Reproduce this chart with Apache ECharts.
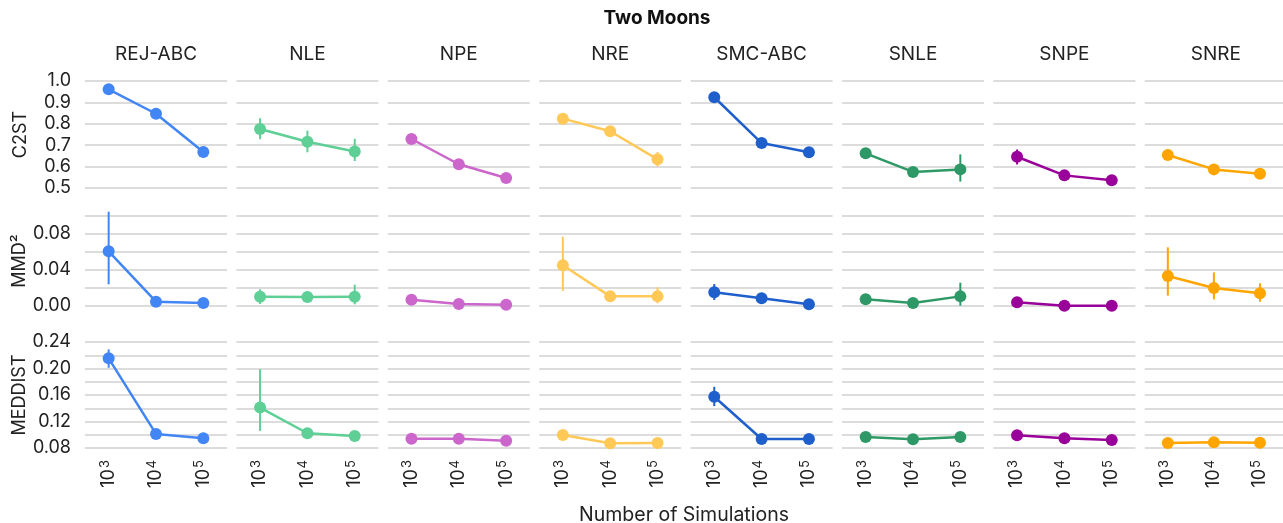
<!DOCTYPE html>
<html>
<head>
<meta charset="utf-8">
<script src="https://cdn.jsdelivr.net/npm/echarts@6/dist/echarts.min.js"></script>
<style>html,body{margin:0;padding:0;background:#fff}#c{width:1283px;height:523px}</style>
</head>
<body>
<div id="c"></div>
<script>
// ---- data ----
const methods = ['REJ-ABC','NLE','NPE','NRE','SMC-ABC','SNLE','SNPE','SNRE'];
const colors = ['#4285f4','#5ecf95','#cc66cc','#ffc857','#1f5fcc','#2e9966','#990099','#ffa500'];
const exponents = ['3','4','5'];
const metrics = ['C2ST','MMD²','MEDDIST'];

// C2ST
const c2st = [
  [0.961,0.847,0.668],[0.776,0.716,0.671],[0.729,0.611,0.547],[0.824,0.765,0.634],
  [0.924,0.710,0.667],[0.662,0.575,0.587],[0.646,0.559,0.536],[0.654,0.587,0.567]
];
const c2stLo = [
  [0.961,0.847,0.668],[0.728,0.667,0.626],[0.729,0.611,0.547],[0.824,0.765,0.600],
  [0.924,0.710,0.667],[0.662,0.565,0.530],[0.610,0.559,0.536],[0.654,0.587,0.567]
];
const c2stHi = [
  [0.961,0.847,0.668],[0.826,0.768,0.730],[0.729,0.611,0.547],[0.824,0.765,0.668],
  [0.924,0.710,0.667],[0.662,0.585,0.657],[0.680,0.559,0.536],[0.654,0.587,0.567]
];
// MMD^2
const mmd = [
  [0.0608,0.0048,0.0033],[0.0104,0.0100,0.0104],[0.0070,0.0022,0.0015],[0.0452,0.0107,0.0107],
  [0.0152,0.0085,0.0019],[0.0074,0.0033,0.0107],[0.0041,0.0004,0.0004],[0.0333,0.0200,0.0141]
];
const mmdLo = [
  [0.0241,0.0048,0.0033],[0.0023,0.0100,0.0019],[0.0070,0.0022,0.0015],[0.0167,0.0107,0.0030],
  [0.0067,0.0085,0.0019],[0.0074,0.0033,0.0004],[0.0041,0.0004,0.0004],[0.0115,0.0074,0.0048]
];
const mmdHi = [
  [0.1048,0.0048,0.0033],[0.0185,0.0100,0.0237],[0.0070,0.0022,0.0015],[0.0770,0.0107,0.0207],
  [0.0244,0.0085,0.0019],[0.0074,0.0033,0.0259],[0.0041,0.0004,0.0004],[0.0652,0.0374,0.0252]
];
// MEDDIST
const med = [
  [0.2153,0.1012,0.0947],[0.1410,0.1023,0.0982],[0.0941,0.0941,0.0911],[0.0997,0.0871,0.0876],
  [0.1573,0.0936,0.0936],[0.0967,0.0932,0.0967],[0.0992,0.0947,0.0921],[0.0876,0.0886,0.0881]
];
const medLo = [
  [0.2011,0.1012,0.0947],[0.1058,0.1023,0.0945],[0.0941,0.0941,0.0911],[0.0997,0.0871,0.0876],
  [0.1432,0.0936,0.0936],[0.0967,0.0932,0.0935],[0.0992,0.0947,0.0921],[0.0876,0.0886,0.0881]
];
const medHi = [
  [0.2289,0.1012,0.0947],[0.1990,0.1023,0.1020],[0.0941,0.0941,0.0911],[0.0997,0.0871,0.0876],
  [0.1724,0.0936,0.0936],[0.0967,0.0932,0.1000],[0.0992,0.0947,0.0921],[0.0876,0.0886,0.0881]
];

// ---- layout ----
const FONT = 'Inter';
const colLeft0 = 85, colStep = 151.4, colW = 142;
const rows = [
  {top: 81, height: 107, min: 0.5, max: 1.0, interval: 0.1, vals: c2st, lo: c2stLo, hi: c2stHi,
   fmt: v => v.toFixed(1)},
  {top: 216, height: 90, min: 0, max: 0.10, interval: 0.02, vals: mmd, lo: mmdLo, hi: mmdHi,
   fmt: v => (Math.round(v*100) % 4 === 0 ? v.toFixed(2) : '')},
  {top: 342, height: 106, min: 0.08, max: 0.24, interval: 0.02, vals: med, lo: medLo, hi: medHi,
   fmt: v => (Math.round(v*100) % 4 === 0 ? v.toFixed(2) : '')}
];

const grids = [], xAxes = [], yAxes = [], series = [], titles = [];
titles.push({text: 'Two Moons', left: 657, top: 9, textAlign: 'center', padding: 0,
  textStyle: {fontFamily: FONT, fontSize: 19, fontWeight: 'bold', color: '#111'}});
methods.forEach((m, c) => {
  titles.push({text: m, left: colLeft0 + c*colStep + colW/2, top: 45, textAlign: 'center', padding: 0,
    textStyle: {fontFamily: FONT, fontSize: 19, fontWeight: 'normal', color: '#222'}});
});
titles.push({text: 'Number of Simulations', left: 684, top: 505, textAlign: 'center', padding: 0,
  textStyle: {fontFamily: FONT, fontSize: 19.5, fontWeight: 'normal', color: '#222'}});

let gi = 0;
rows.forEach((r, ri) => {
  methods.forEach((m, c) => {
    grids.push({left: colLeft0 + c*colStep, top: r.top, width: colW, height: r.height, containLabel: false});
    xAxes.push({
      type: 'category', gridIndex: gi, data: exponents, boundaryGap: true,
      axisLine: {show: false}, axisTick: {show: false}, splitLine: {show: false},
      axisLabel: {
        show: ri === 2, rotate: 90, margin: 12,
        formatter: e => '{b|10}{s|' + e + '}',
        rich: {
          b: {fontFamily: FONT, fontSize: 18, color: '#222'},
          s: {fontFamily: FONT, fontSize: 13, color: '#222', verticalAlign: 'top', padding: [0,0,8,1]}
        }
      }
    });
    yAxes.push({
      type: 'value', gridIndex: gi, min: r.min, max: r.max, interval: r.interval,
      axisLine: {show: false}, axisTick: {show: false},
      splitLine: {show: true, lineStyle: {color: '#dcdcdc', width: 2}},
      axisLabel: {show: c === 0, margin: 14, formatter: r.fmt,
        fontFamily: FONT, fontSize: 18, color: '#222'},
      name: c === 0 ? metrics[ri] : '', nameLocation: 'middle', nameRotate: 90, nameGap: 55,
      nameTextStyle: {fontFamily: FONT, fontSize: 18, color: '#222'}
    });
    const col = colors[c];
    const errData = r.vals[c].map((v, i) => [i, r.lo[c][i], r.hi[c][i]]);
    series.push({
      type: 'custom', xAxisIndex: gi, yAxisIndex: gi, clip: false, z: 2,
      data: errData,
      renderItem: (params, api) => {
        const lo = api.value(1), hi = api.value(2);
        if (hi - lo <= 0) return null;
        const p1 = api.coord([api.value(0), lo]);
        const p2 = api.coord([api.value(0), hi]);
        return {type: 'line', shape: {x1: p1[0], y1: p1[1], x2: p2[0], y2: p2[1]},
          style: {stroke: col, lineWidth: 2}};
      }
    });
    series.push({
      type: 'line', xAxisIndex: gi, yAxisIndex: gi, data: r.vals[c], clip: false, z: 3,
      symbol: 'circle', symbolSize: 12, showSymbol: true,
      lineStyle: {color: col, width: 2.5}, itemStyle: {color: col},
      emphasis: {disabled: true}, animation: false
    });
    gi++;
  });
});

const chart = echarts.init(document.getElementById('c'), null, {renderer: 'canvas'});
chart.setOption({
  animation: false,
  backgroundColor: '#fff',
  title: titles,
  grid: grids, xAxis: xAxes, yAxis: yAxes, series: series
});
</script>
</body>
</html>
